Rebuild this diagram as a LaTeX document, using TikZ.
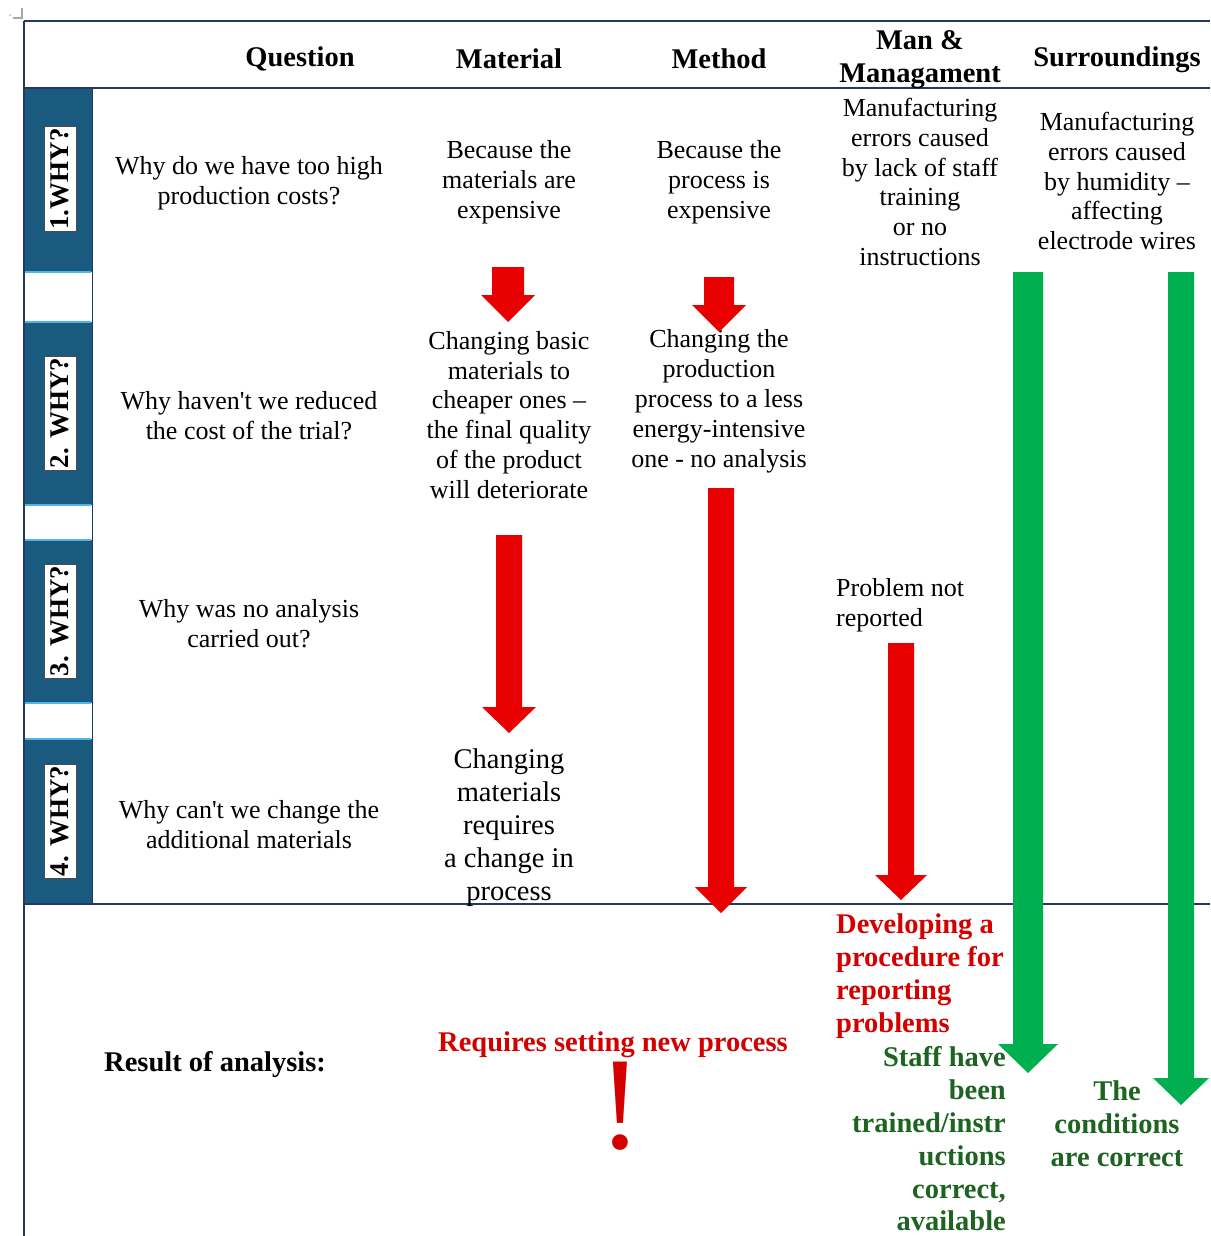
\documentclass[tikz,border=0pt]{standalone}
\usepackage{fontspec}
\setmainfont{Liberation Serif}[Ligatures=TeXOff]
\definecolor{navyline}{RGB}{36,56,96}
\definecolor{whyblue}{RGB}{26,90,126}
\definecolor{lightblue}{RGB}{80,180,230}
\definecolor{arrred}{RGB}{232,0,0}
\definecolor{arrgreen}{RGB}{0,176,80}
\definecolor{redtxt}{RGB}{212,0,0}
\definecolor{greentxt}{RGB}{28,100,32}
\newcommand{\blockarr}[7]{%
  \fill[#1] ({#2-#6},#3) -- ({#2+#6},#3) -- ({#2+#6},#4) -- ({#2+#7},#4) -- (#2,#5) -- ({#2-#7},#4) -- ({#2-#6},#4) -- cycle;}
\begin{document}
\begin{tikzpicture}[x=1pt,y=-1pt,
  txt/.style={inner sep=0pt, align=center, font=\fontsize{26}{29.9}\selectfont},
  bigtxt/.style={inner sep=0pt, align=center, font=\fontsize{28.5}{33}\selectfont},
  hdr/.style={inner sep=0pt, align=center, font=\bfseries\fontsize{28.5}{32.8}\selectfont},
  redb/.style={hdr, text=redtxt},
  greenb/.style={hdr, text=greentxt},
  whylbl/.style={draw=black!70, line width=0.6pt, fill=white, rotate=90,
    font=\bfseries\fontsize{27}{27}\selectfont, inner xsep=2pt, inner ysep=7pt},
  rule/.style={draw=navyline, line width=1.5pt},
  band/.style={fill=whyblue},
  gapline/.style={draw=lightblue, line width=1.5pt},
]
\useasboundingbox (0,0) rectangle (1210,1236);
\fill[white] (0,0) rectangle (1210,1236);
% corner mark
\draw[black!35, line width=1.2pt] (13,18) -- (22,18) -- (22,8);
\fill[black!35] (10,15) circle (0.8);
% blue column bands
\fill[band] (24,88) rectangle (92,272);
\fill[band] (24,322) rectangle (92,505);
\fill[band] (24,540) rectangle (92,703);
\fill[band] (24,739) rectangle (92,904);
\foreach \yy in {272,322,505,540,703,739} \draw[gapline] (25,\yy) -- (91,\yy);
\draw[rule, line width=1pt] (92,88) -- (92,904);
% table rules
\draw[rule] (24,21) -- (1210,21);
\draw[rule] (24,88) -- (1210,88);
\draw[rule] (24,904) -- (1210,904);
\draw[rule] (24,21) -- (24,1236);
% why labels
\node[whylbl] (w1) at (60,179) {1.WHY?};
\node[whylbl] (w2) at (60,413) {2. WHY?};
\node[whylbl] (w3) at (60,621) {3. WHY?};
\node[whylbl] (w4) at (60,821) {4. WHY?};
% headers
\node[hdr] (hq) at (300,59) {Question};
\node[hdr] (hmat) at (509,59) {Material};
\node[hdr] (hmet) at (719,59) {Method};
\node[hdr] (hman) at (920,60) {Man \&\\Managament};
\node[hdr] (hsur) at (1117,60) {Surroundings};
% row 1
\node[txt] (q1) at (249,183) {Why do we have too high\\production costs?};
\node[txt] (mat1) at (509,182) {Because the\\materials are\\expensive};
\node[txt] (met1) at (719,182) {Because the\\process is\\expensive};
\node[txt] (man1) at (920,182) {Manufacturing\\errors caused\\by lack of staff\\training\\or no\\instructions};
\node[txt] (sur1) at (1117,181) {Manufacturing\\errors caused\\by humidity –\\affecting\\electrode wires};
% row 2
\node[txt] (q2) at (249,416) {Why haven't we reduced\\the cost of the trial?};
\node[txt] (mat2) at (509,415) {Changing basic\\materials to\\cheaper ones –\\the final quality\\of the product\\will deteriorate};
\node[txt] (met2) at (719,401) {Changing the\\production\\process to a less\\energy-intensive\\one - no analysis};
% row 3
\node[txt] (q3) at (249,624) {Why was no analysis\\carried out?};
\node[txt, align=left, anchor=west] (man3) at (836,605) {Problem not\\reported};
% row 4
\node[txt] (q4) at (249,825) {Why can't we change the\\additional materials};
\node[bigtxt] (mat4) at (509,828) {Changing\\materials\\requires\\a change in\\process};
% arrows
\blockarr{arrred}{508}{267}{295}{322}{16}{27}
\blockarr{arrred}{719}{277}{305}{332}{15}{27}
\blockarr{arrred}{509}{535}{707}{733}{13}{27}
\blockarr{arrred}{721}{488}{887}{913}{13}{26}
\blockarr{arrred}{901}{643}{875}{900}{13}{26}
\blockarr{arrgreen}{1028}{272}{1044}{1073}{15}{30}
\blockarr{arrgreen}{1181}{272}{1078}{1105}{13}{28}
% results
\node[hdr, anchor=west] (res) at (104,1065) {Result of analysis:};
\node[redb] (req) at (613,1045) {Requires setting new process};
\node[text=redtxt, inner sep=0pt, font=\fontsize{132}{132}\selectfont] (excl) at (620,1106) {!};
\node[redb, align=left, anchor=west] (dev) at (836,976) {Developing a\\procedure for\\reporting\\problems};
\node[greenb, align=right, anchor=east] (staff) at (1006,1139) {Staff have\\been\\trained/instr\\uctions\\correct,\\available};
\node[greenb] (cond) at (1117,1124) {The\\conditions\\are correct};
\end{tikzpicture}
\end{document}
